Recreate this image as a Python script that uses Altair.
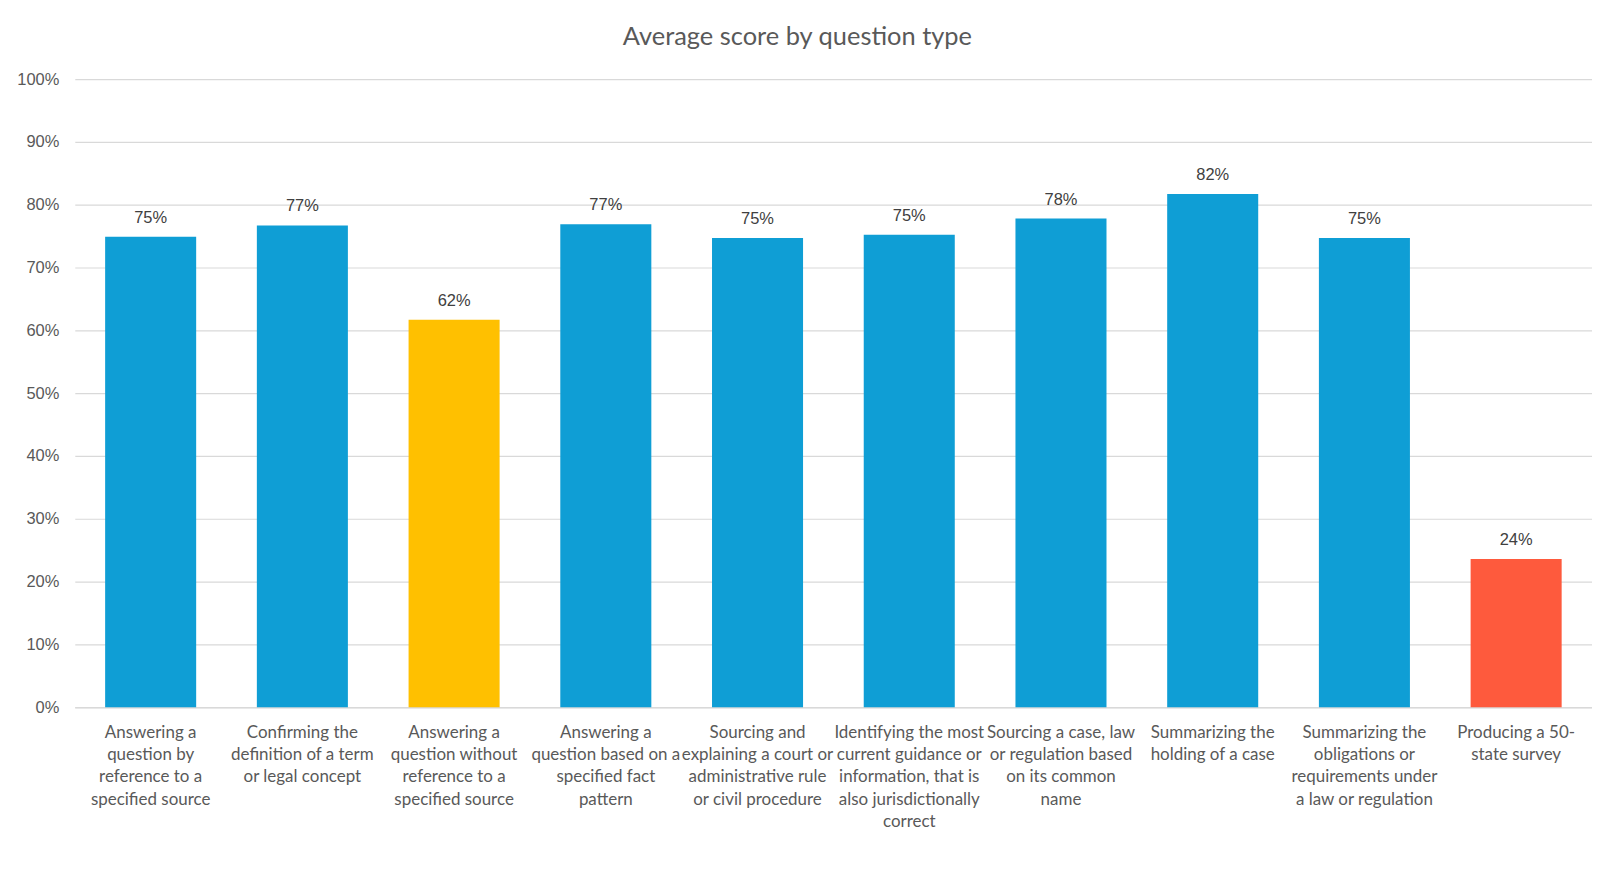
import altair as alt
import pandas as pd

label_lines = [
    ["Answering a", "question by", "reference to a", "specified source"],
    ["Confirming the", "definition of a term", "or legal concept"],
    ["Answering a", "question without", "reference to a", "specified source"],
    ["Answering a", "question based on a", "specified fact", "pattern"],
    ["Sourcing and", "explaining a court or", "administrative rule", "or civil procedure"],
    ["Identifying the most", "current guidance or", "information, that is", "also jurisdictionally", "correct"],
    ["Sourcing a case, law", "or regulation based", "on its common", "name"],
    ["Summarizing the", "holding of a case"],
    ["Summarizing the", "obligations or", "requirements under", "a law or regulation"],
    ["Producing a 50-", "state survey"],
]
scores = [0.749, 0.767, 0.617, 0.769, 0.747, 0.752, 0.778, 0.817, 0.747, 0.236]
bar_colors = ["#0F9ED5", "#0F9ED5", "#FFC000", "#0F9ED5", "#0F9ED5",
              "#0F9ED5", "#0F9ED5", "#0F9ED5", "#0F9ED5", "#FE5A3D"]

categories = ["|".join(l) for l in label_lines]
df = pd.DataFrame({"category": categories, "score": scores})

x = alt.X(
    "category:N",
    sort=categories,
    title=None,
    scale=alt.Scale(paddingInner=0.4, paddingOuter=0.2),
    axis=alt.Axis(
        labelExpr="split(datum.label, '|')",
        labelAngle=0,
        labelOverlap=False,
        labelBound=False,
        labelLimit=0,
        labelFont="Lato",
        labelFontSize=17,
        labelLineHeight=22.5,
        labelColor="#595959",
        labelPadding=17,
        labelBaseline="top",
        ticks=False,
        domainColor="#D9D9D9",
        domainWidth=1.5,
    ),
)
y = alt.Y(
    "score:Q",
    title=None,
    scale=alt.Scale(domain=[0, 1]),
    axis=alt.Axis(
        format=".0%",
        values=[i / 10 for i in range(11)],
        labelFont="Liberation Sans",
        labelFontSize=16.5,
        labelColor="#595959",
        labelPadding=16,
        ticks=False,
        domain=False,
        gridColor="#D9D9D9",
        gridWidth=1.2,
    ),
)

bars = alt.Chart(df).mark_bar().encode(
    x=x,
    y=y,
    color=alt.Color("category:N", scale=alt.Scale(domain=categories, range=bar_colors), legend=None),
)
text = alt.Chart(df).mark_text(
    baseline="bottom", dy=-11, font="Liberation Sans", fontSize=16.5, color="#404040"
).encode(
    x=alt.X("category:N", sort=categories),
    y=alt.Y("score:Q"),
    text=alt.Text("score:Q", format=".0%"),
)

chart = (
    alt.layer(bars, text)
    .properties(
        width=1522,
        height=630,
        background="white",
        autosize=alt.AutoSizeParams(type="none"),
        padding={"left": 67, "top": 70, "right": 0, "bottom": 150},
        title=alt.TitleParams(
            "Average score by question type",
            font="Lato",
            fontSize=25.5,
            fontWeight="normal",
            color="#595959",
            offset=21,
            anchor="middle",
            frame="bounds",
            dx=-7,
        ),
    )
    .configure_view(stroke=None)
)

chart.save("out.html", embed_options={"renderer": "svg", "actions": False})
